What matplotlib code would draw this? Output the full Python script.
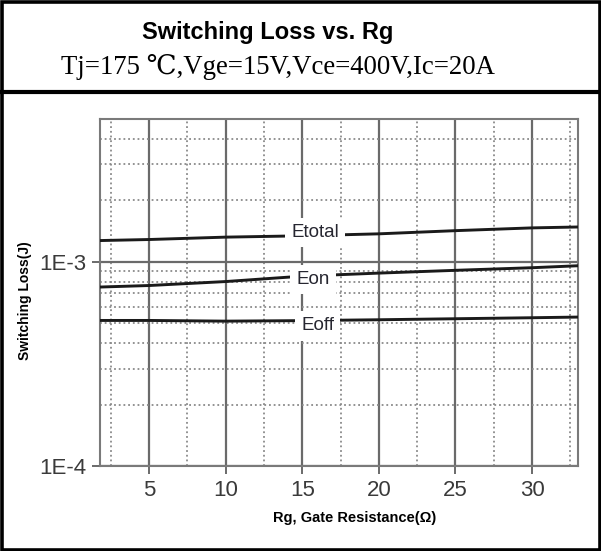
import numpy as np
import matplotlib
matplotlib.use("Agg")
import matplotlib.pyplot as plt
from matplotlib.patches import Rectangle
from matplotlib.lines import Line2D
from matplotlib.ticker import FixedLocator, LogLocator, NullFormatter

# ---- data ----
rg = [1.8, 5, 10, 15, 20, 25, 30, 33]
etotal = [1.27e-3, 1.285e-3, 1.32e-3, 1.34e-3, 1.37e-3, 1.42e-3, 1.465e-3, 1.48e-3]
eon = [7.52e-4, 7.65e-4, 8.0e-4, 8.5e-4, 8.8e-4, 9.08e-4, 9.35e-4, 9.56e-4]
eoff = [5.16e-4, 5.16e-4, 5.12e-4, 5.15e-4, 5.2e-4, 5.26e-4, 5.32e-4, 5.36e-4]
x_ticks = [5, 10, 15, 20, 25, 30]
x_minor = [2.5, 7.5, 12.5, 17.5, 22.5, 27.5, 32.5]
y_ticks = [1e-4, 1e-3]
y_ticklabels = ["1E-4", "1E-3"]
curve_labels = [("Etotal", 15.85, 1.387e-3), ("Eon", 15.7, 8.17e-4), ("Eoff", 16.0, 4.85e-4)]

title = "Switching Loss vs. Rg"
subtitle = "Tj=175 \u2103,Vge=15V,Vce=400V,Ic=20A"

W, H = 601, 551
fig = plt.figure(figsize=(W / 100, H / 100), dpi=100)
fig.patch.set_facecolor("white")

# axes
ax = fig.add_axes([100 / W, 1 - 466 / H, (578 - 100) / W, (466 - 119) / H])
ax.set_yscale("log")
ax.set_xlim(1.8, 33.0)
ax.set_ylim(1e-4, 5e-3)

ax.xaxis.set_major_locator(FixedLocator(x_ticks))
ax.xaxis.set_minor_locator(FixedLocator(x_minor))
ax.yaxis.set_major_locator(FixedLocator(y_ticks))
ax.yaxis.set_minor_locator(LogLocator(base=10, subs=np.arange(2, 10)))
ax.yaxis.set_minor_formatter(NullFormatter())
ax.set_yticklabels(y_ticklabels)

ax.grid(which="major", color="#6a6a6a", linewidth=1.6, linestyle="-")
ax.grid(which="minor", color="#8a8a8a", linewidth=1.3, linestyle=(0, (1, 1.6)))
ax.set_axisbelow(True)

for s in ax.spines.values():
    s.set_color("#7a7a7a")
    s.set_linewidth(1.5)

ax.tick_params(which="major", direction="out", length=6, width=1.4, color="#6a6a6a",
               labelsize=16, labelcolor="#3a3a3a", pad=4)
ax.tick_params(which="minor", length=0)
for lab in ax.get_xticklabels() + ax.get_yticklabels():
    lab.set_fontfamily("Liberation Sans")

ax.plot(rg, etotal, color="#1a1a1a", linewidth=2.1, zorder=3)
ax.plot(rg, eon, color="#1a1a1a", linewidth=2.1, zorder=3)
ax.plot(rg, eoff, color="#1a1a1a", linewidth=2.1, zorder=3)

for txt, xv, yv in curve_labels:
    ax.text(xv, yv, txt, ha="center", va="center", fontsize=13.5, color="#262630",
            family="Liberation Sans", zorder=4,
            bbox=dict(facecolor="white", edgecolor="none", pad=4.5))

# axis labels
fig.text(355 / W, 1 - 518 / H, "Rg, Gate Resistance(\u03a9)", ha="center", va="center",
         fontsize=10.5, fontweight="bold", family=["Liberation Sans", "DejaVu Sans"])
fig.text(25 / W, 1 - 301 / H, "Switching Loss(J)", ha="center", va="center", rotation=90,
         fontsize=10, fontweight="bold", family="Liberation Sans")

# titles
fig.text(268 / W, 1 - 33 / H, title, ha="center", va="center", fontsize=17,
         fontweight="bold", family="Liberation Sans")
fig.text(278 / W, 1 - 67 / H, subtitle, ha="center", va="center", fontsize=19.3,
         family=["Liberation Serif", "DejaVu Serif"])

# borders
fig.add_artist(Rectangle((1.5 / W, 1.5 / H), (W - 3) / W, (H - 3) / H, transform=fig.transFigure,
                         fill=False, edgecolor="black", linewidth=2.6))
fig.add_artist(Line2D([0, 1], [1 - 91.5 / H, 1 - 91.5 / H], transform=fig.transFigure,
                      color="black", linewidth=3.0))

fig.savefig("out.png", dpi=100)
